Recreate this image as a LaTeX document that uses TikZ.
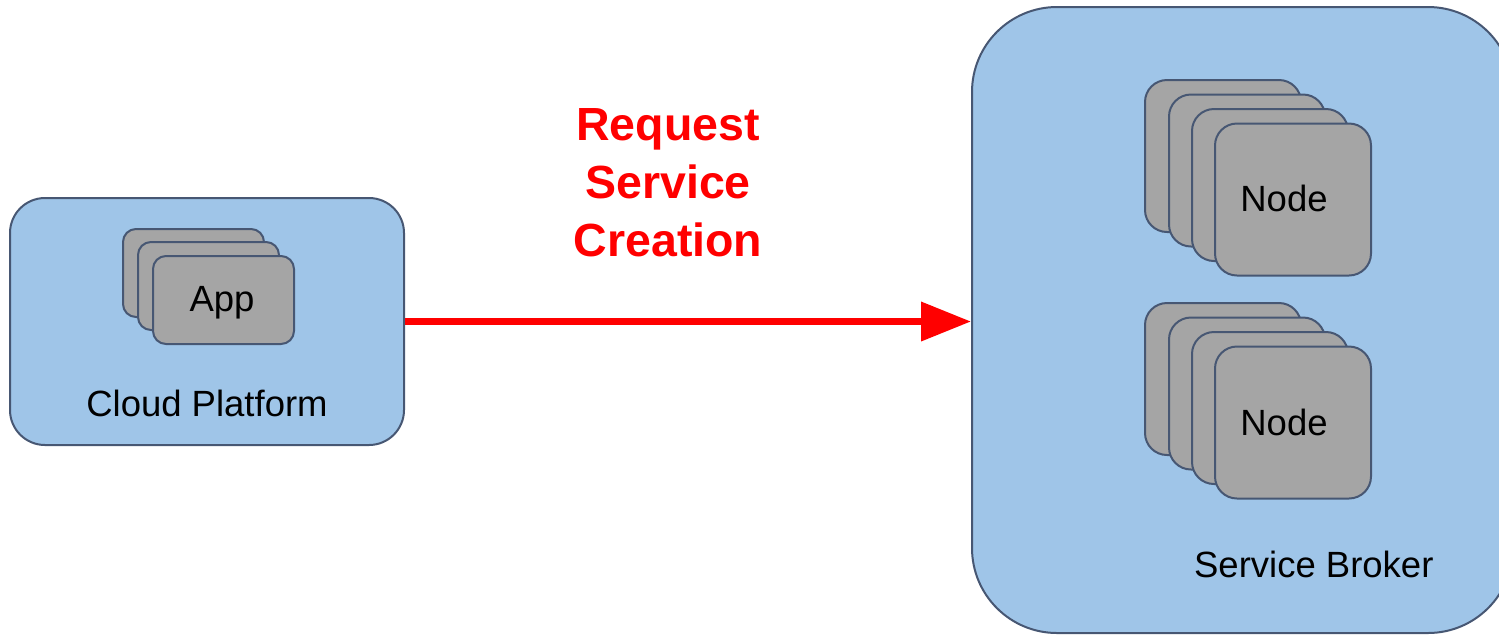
\documentclass[tikz,border=0pt]{standalone}
\usepackage{fontspec}
\setmainfont{Liberation Sans}
\usetikzlibrary{arrows.meta}
\definecolor{panelblue}{HTML}{9FC5E8}
\definecolor{edgeslate}{HTML}{475773}
\definecolor{cardgray}{HTML}{A5A5A5}
\tikzset{
  panel/.style={draw=edgeslate, line width=1pt, fill=panelblue, inner sep=0pt},
  card/.style={draw=edgeslate, line width=1pt, fill=cardgray, inner sep=0pt, anchor=north west},
  appcard/.style={card, minimum width=70.5pt, minimum height=44pt, rounded corners=6.5pt},
  nodecard/.style={card, minimum width=78pt, minimum height=76pt, rounded corners=11pt},
  lbl/.style={font=\fontsize{18.25}{22}\selectfont, anchor=base, inner sep=0pt},
  reqtext/.style={font=\bfseries\fontsize{23.25}{29}\selectfont, text=red, align=center, inner sep=0pt},
  flow/.style={draw=red, line width=3.5pt, -{Triangle[length=25pt,width=19pt]}}
}
\begin{document}
\begin{tikzpicture}[x=0.5pt,y=-0.5pt]
  \useasboundingbox (0,0) rectangle (1499,634);
  \clip (0,0) rectangle (1499,634);

  % containers
  \node[panel, minimum width=197pt, minimum height=123.5pt, rounded corners=17.5pt] (cloud) at (207,321.5) {};
  \node[panel, minimum width=270.5pt, minimum height=313pt, rounded corners=42.5pt] (broker) at (1242.5,320) {};

  % request arrow and its caption
  \draw[flow] (cloud.east) -- (cloud.east -| broker.west);
  \node[reqtext] (req) at (668,183) {Request\\Service\\Creation};

  % app instances
  \node[appcard] (app1) at (122,228) {};
  \node[appcard] (app2) at (137,241) {};
  \node[appcard] (app3) at (152,255) {};
  \node[lbl] (applbl) at (222,311.7) {App};
  \node[lbl] (cloudlbl) at (207,416.7) {Cloud Platform};

  % upper node stack
  \node[nodecard] (na1) at (1144,79) {};
  \node[nodecard] (na2) at (1168,93.5) {};
  \node[nodecard] (na3) at (1191,108) {};
  \node[nodecard] (na4) at (1214,122.5) {};
  \node[lbl] (nalbl) at (1284,211.3) {Node};

  % lower node stack
  \node[nodecard] (nb1) at (1144,302) {};
  \node[nodecard] (nb2) at (1168,316.5) {};
  \node[nodecard] (nb3) at (1191,331) {};
  \node[nodecard] (nb4) at (1214,345.5) {};
  \node[lbl] (nblbl) at (1284,435.2) {Node};

  \node[lbl] (brokerlbl) at (1313.8,577.3) {Service Broker};
\end{tikzpicture}
\end{document}
